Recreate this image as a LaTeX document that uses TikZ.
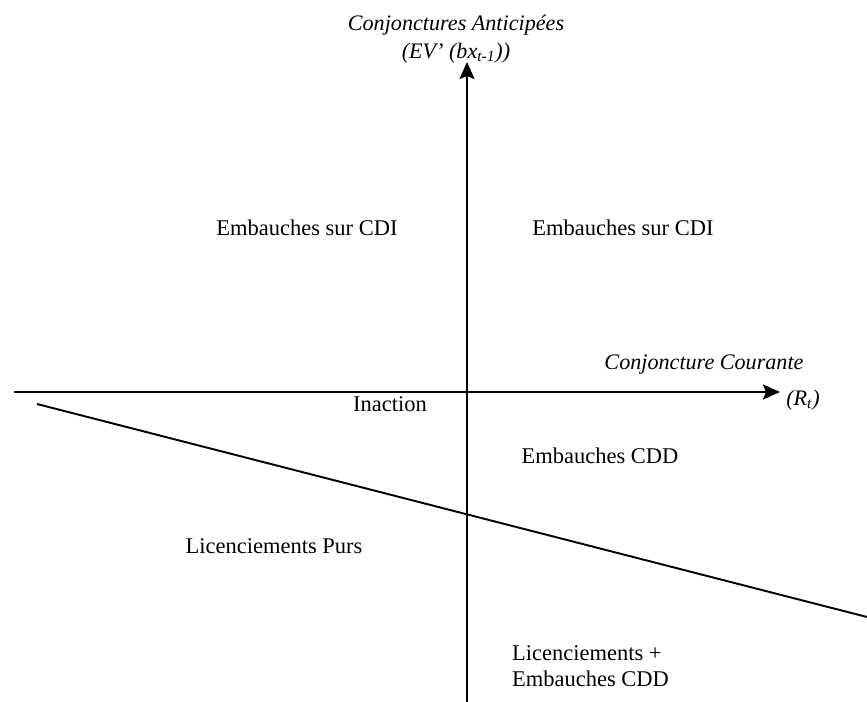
\documentclass[tikz,border=0pt]{standalone}
\usepackage{fontspec}
\setmainfont{Liberation Serif}
\usetikzlibrary{arrows.meta,positioning}

\begin{document}
\begin{tikzpicture}[
    x=0.02cm, y=-0.02cm,
    axis/.style={-{Stealth[length=3.4mm, width=3mm, inset=0.6mm]}, line width=1.1pt, black},
    border/.style={line width=1.1pt, black},
    zone/.style={font=\fontsize{12.8}{15}\selectfont, align=left, inner sep=1pt},
    axislabel/.style={font=\fontsize{12.6}{15}\selectfont\itshape, align=center, inner sep=1pt}
]
    \useasboundingbox (0,0) rectangle (867,702);

    % axes
    \coordinate (xstart) at (14,392);
    \coordinate (xend)   at (780,392);
    \coordinate (ystart) at (467,702);
    \coordinate (yend)   at (467,62);
    \draw[axis] (xstart) -- (xend);
    \draw[axis] (ystart) -- (yend);

    % frontier
    \coordinate (fstart) at (37,404);
    \coordinate (fend)   at (867,617);
    \draw[border] (fstart) -- (fend);

    % axis labels
    \node[axislabel] (ytitle) at (456,25) {Conjonctures Anticipées};
    \node[axislabel] (yvar)   at (456,53) {(EV’ (bx\textsubscript{t-1}))};
    \node[axislabel] (xtitle) at (704,365) {Conjoncture Courante};
    \node[axislabel] (xvar)   at (803,400) {(R\textsubscript{t})};

    % regions
    \node[zone] (cdil)   at (307,228) {Embauches sur CDI};
    \node[zone] (cdir)   at (623,228) {Embauches sur CDI};
    \node[zone] (inact)  at (390,404) {Inaction};
    \node[zone] (cdd)    at (600,456) {Embauches CDD};
    \node[zone] (licp)   at (274,546) {Licenciements Purs};
    \node[zone, anchor=west] (liccdd) at (510,666) {Licenciements +\\Embauches CDD};
\end{tikzpicture}
\end{document}
